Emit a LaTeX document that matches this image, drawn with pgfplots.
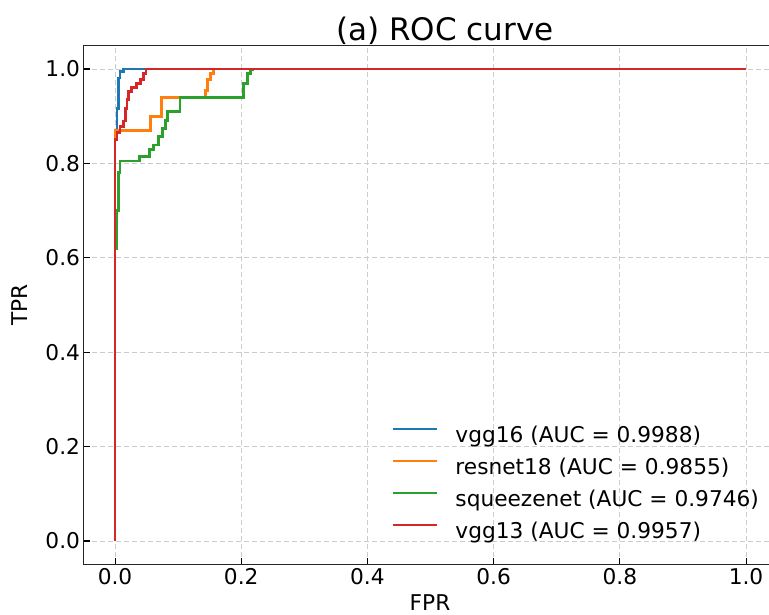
\documentclass[border=0pt]{standalone}
\usepackage{fontspec}
\setmainfont{DejaVu Sans}
\usepackage{pgfplots}
\pgfplotsset{compat=1.18}
\definecolor{cblue}{HTML}{1F77B4}
\definecolor{corange}{HTML}{FF7F0E}
\definecolor{cgreen}{HTML}{2CA02C}
\definecolor{cred}{HTML}{D62728}
\newcommand{\basefont}{\fontsize{21.7bp}{26bp}\selectfont}
\begin{document}
\begin{tikzpicture}[x=1bp,y=1bp]
\path[use as bounding box] (0,0) rectangle (769,615);
\begin{axis}[
  at={(83.5bp,50.4bp)}, anchor=south west,
  scale only axis, width=685.5bp, height=519.2bp,
  xmin=-0.05, xmax=1.0364, ymin=-0.05, ymax=1.05,
  axis x line*=bottom, axis y line*=left,
  xtick={0,0.2,0.4,0.6,0.8,1.0}, ytick={0,0.2,0.4,0.6,0.8,1.0},
  tick align=inside, xtick pos=bottom, ytick pos=left,
  major tick length=7bp,
  every tick/.style={black, line width=1.1bp},
  axis line style={black!85, line width=1.3bp},
  grid=major,
  major grid style={dash pattern=on 5bp off 3bp, black!20, line width=0.9bp},
  tick label style={font=\basefont},
  /pgf/number format/assume math mode=true,
  xticklabel style={/pgf/number format/.cd,fixed,fixed zerofill,precision=1},
  yticklabel style={/pgf/number format/.cd,fixed,fixed zerofill,precision=1},
  title={(a) ROC curve},
  title style={font=\fontsize{31bp}{37bp}\selectfont, at={(axis description cs:0.5275,1)}, anchor=base, yshift=-1bp},
  xlabel={FPR},
  xlabel style={font=\basefont, at={(axis description cs:0.5055,0)}, anchor=base, yshift=-46bp},
  ylabel={TPR},
  ylabel style={font=\basefont, at={(axis description cs:-0.0824,0.5)}, anchor=base},
  legend style={draw=none, fill=none, font=\basefont, at={(axis cs:0.439,0.2436)}, anchor=north west,
    inner sep=0pt, row sep=11bp, column sep=17bp,
    nodes={inner sep=0pt, text height=16bp, text depth=5bp}},
  legend cell align=left,
  legend image code/.code={\draw[#1, line width=2.2bp] (0bp,7.5bp)--(44bp,7.5bp);},
  every axis plot/.append style={line width=2.8bp},
]
\draw[black!85, line width=1.3bp] (rel axis cs:0,1) -- (rel axis cs:1,1);
\addplot[cblue] coordinates {
(0,0) (0,0.85) (0.003,0.85) (0.003,0.917) (0.005,0.917) (0.005,0.981)
(0.008,0.981) (0.008,0.995) (0.013,0.995) (0.013,1) (1,1)};
\addlegendentry{vgg16 (AUC = 0.9988)}
\addplot[corange] coordinates {
(0,0) (0,0.87) (0.056,0.87) (0.056,0.9) (0.074,0.9) (0.074,0.94)
(0.143,0.94) (0.143,0.955) (0.147,0.955) (0.147,0.977) (0.151,0.977)
(0.151,0.991) (0.156,0.991) (0.156,1) (1,1)};
\addlegendentry{resnet18 (AUC = 0.9855)}
\addplot[cgreen] coordinates {
(0,0) (0,0.62) (0.002,0.62) (0.002,0.70) (0.005,0.70) (0.005,0.78)
(0.008,0.78) (0.008,0.805) (0.039,0.805) (0.039,0.814) (0.054,0.814)
(0.054,0.830) (0.061,0.830) (0.061,0.839) (0.069,0.839) (0.069,0.857)
(0.075,0.857) (0.075,0.874) (0.080,0.874) (0.080,0.891) (0.083,0.891)
(0.083,0.91) (0.103,0.91) (0.103,0.94) (0.201,0.94) (0.203,0.94)
(0.203,0.97) (0.21,0.97) (0.21,0.991) (0.215,0.991) (0.215,0.998)
(0.218,0.998) (0.218,1) (1,1)};
\addlegendentry{squeezenet (AUC = 0.9746)}
\addplot[cred] coordinates {
(0,0) (0,0.85) (0.003,0.85) (0.003,0.865) (0.008,0.865) (0.008,0.878)
(0.013,0.878) (0.013,0.89) (0.016,0.89) (0.016,0.917) (0.019,0.917)
(0.019,0.935) (0.021,0.935) (0.021,0.953) (0.026,0.953) (0.026,0.96)
(0.034,0.96) (0.034,0.97) (0.040,0.97) (0.040,0.977) (0.045,0.977)
(0.045,0.991) (0.049,0.991) (0.049,1) (1,1)};
\addlegendentry{vgg13 (AUC = 0.9957)}
\end{axis}
\end{tikzpicture}
\end{document}
